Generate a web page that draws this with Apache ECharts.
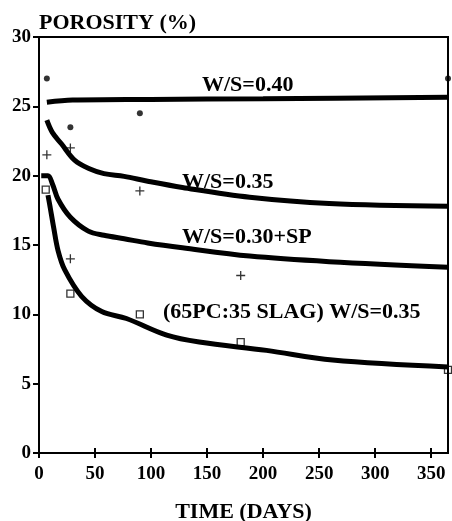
<!DOCTYPE html>
<html>
<head>
<meta charset="utf-8">
<script src="https://cdn.jsdelivr.net/npm/echarts@6/dist/echarts.min.js"></script>
<style>
html,body{margin:0;padding:0;background:#fff;}
#chart{width:452px;height:521px;}
</style>
</head>
<body>
<div id="chart"></div>
<script>
var dom = document.getElementById("chart");
var myChart = echarts.init(dom);

// fitted curves (day, porosity %)
var curve040 = [[7,25.3],[30,25.45],[100,25.5],[200,25.55],[365,25.65]];
var curve035 = [[7,24.0],[12,23.1],[20,22.3],[32,21.1],[45,20.5],[58,20.15],[76,19.95],[97,19.6],[128,19.15],[188,18.45],[259,18.0],[365,17.8]];
var curve030 = [[2,20],[8,20],[12,19.4],[17,18.3],[28,17.0],[44,16.0],[58,15.7],[76,15.45],[97,15.15],[128,14.8],[188,14.2],[259,13.8],[365,13.4]];
var curveSlag = [[8,18.6],[10,17.7],[13,16.3],[17,14.6],[23,13.2],[38,11.3],[56,10.2],[78,9.7],[114,8.5],[143,8.0],[203,7.4],[262,6.7],[365,6.2]];

// measured points
var pts040 = [[7,27],[28,23.5],[90,24.5],[365,27]];
var pts035 = [[7,21.5],[28,22],[90,18.9]];
var pts030 = [[28,14],[180,12.8]];
var ptsSlag = [[6,19],[28,11.5],[90,10],[180,8],[365,6]];

var curveLabels = ['W/S=0.40', 'W/S=0.35', 'W/S=0.30+SP', '(65PC:35 SLAG) W/S=0.35'];

var serif = '"Liberation Serif", "DejaVu Serif", serif';
var plusPath = 'path://M0,5L10,5M5,0L5,10';

function curve(data){
  return {
    type: 'line', data: data, smooth: 0.35, symbol: 'none',
    lineStyle: {color: '#000', width: 5}, z: 2
  };
}
function dots(data, symbol, size, filled){
  return {
    type: 'scatter', data: data, symbol: symbol, symbolSize: size,
    itemStyle: filled ? {color: '#000'} : {color: 'rgba(0,0,0,0)', borderColor: '#000', borderWidth: 1.3},
    z: 3
  };
}

var option = {
  animation: false,
  backgroundColor: '#fff',
  grid: {left: 39, right: 4, top: 37, bottom: 68, outerBoundsMode: 'none', containLabel: false,
    show: true, borderColor: '#000', borderWidth: 2},
  xAxis: [{
    type: 'value', min: 0, max: 365, interval: 50,
    name: 'TIME (DAYS)', nameLocation: 'middle', nameGap: 48,
    nameTextStyle: {fontFamily: serif, fontWeight: 'bold', fontSize: 22, color: '#000'},
    axisLine: {lineStyle: {color: '#000', width: 2}},
    axisTick: {length: 5, lineStyle: {color: '#000', width: 2}},
    axisLabel: {fontFamily: serif, fontWeight: 'bold', fontSize: 19, color: '#000', margin: 12, showMaxLabel: false},
    splitLine: {show: false}
  }, {
    type: 'value', min: 0, max: 365, interval: 50, position: 'bottom',
    axisLine: {show: false},
    axisTick: {inside: true, length: 5, lineStyle: {color: '#000', width: 2}},
    axisLabel: {show: false},
    splitLine: {show: false}
  }],
  yAxis: {
    type: 'value', min: 0, max: 30, interval: 5,
    name: 'POROSITY (%)', nameLocation: 'end', nameGap: 14,
    nameTextStyle: {fontFamily: serif, fontWeight: 'bold', fontSize: 22, color: '#000', align: 'left', verticalAlign: 'middle'},
    axisLine: {lineStyle: {color: '#000', width: 2}},
    axisTick: {length: 6, lineStyle: {color: '#000', width: 2}},
    axisLabel: {fontFamily: serif, fontWeight: 'bold', fontSize: 19, color: '#000', margin: 8},
    splitLine: {show: false}
  },
  graphic: [
    {type: 'text', left: 202, top: 74, style: {text: curveLabels[0], font: 'bold 22px ' + serif, fill: '#000'}},
    {type: 'text', left: 182, top: 171, style: {text: curveLabels[1], font: 'bold 22px ' + serif, fill: '#000'}},
    {type: 'text', left: 182, top: 226, style: {text: curveLabels[2], font: 'bold 22px ' + serif, fill: '#000'}},
    {type: 'text', left: 163, top: 301, style: {text: curveLabels[3], font: 'bold 22px ' + serif, fill: '#000'}}
  ],
  series: [
    curve(curve040), curve(curve035), curve(curve030), curve(curveSlag),
    dots(pts040, 'circle', 6, true),
    dots(pts035, plusPath, 9, false),
    dots(pts030, plusPath, 9, false),
    dots(ptsSlag, 'rect', 7, false)
  ]
};
myChart.setOption(option);
</script>
</body>
</html>
